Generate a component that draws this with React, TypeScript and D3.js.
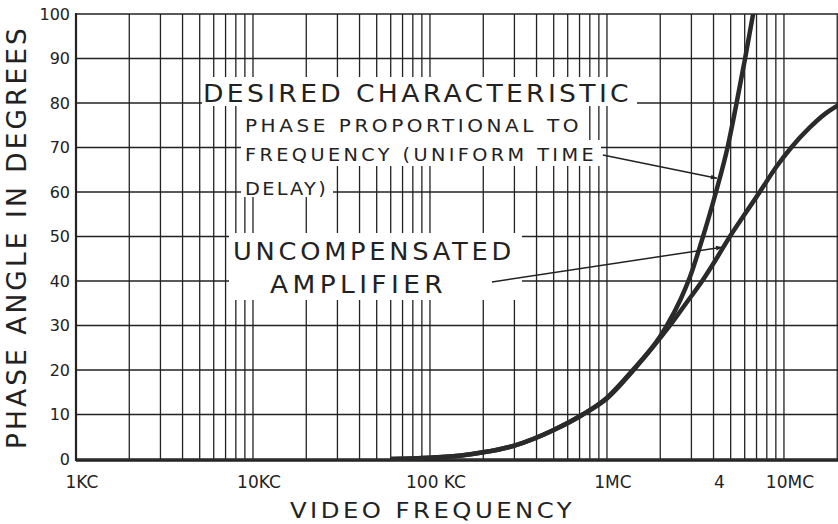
import { useEffect, useRef } from 'react'
import * as d3 from 'd3'

const W = 838
const H = 524

const FREQ_DOMAIN = [1e3, 2.02e7]
const PHASE_TICKS = [0, 10, 20, 30, 40, 50, 60, 70, 80, 90, 100]

const X_LABEL_FREQS = [1e3, 1e4, 1e5, 1e6, 4e6, 1e7]
const X_LABEL_TEXT = ['1KC', '10KC', '100 KC', '1MC', '4', '10MC']

// desired characteristic: phase proportional to frequency
const DESIRED_FREQ = [60e3, 100e3, 150e3, 200e3, 300e3, 500e3, 730e3, 1e6, 1.4e6, 2.0e6, 2.18e6, 2.6e6, 2.95e6, 3.49e6, 4.13e6, 4.8e6, 5.4e6, 6.03e6, 6.8e6]
const DESIRED_PHASE = [0, 0.3, 0.8, 1.5, 3.0, 6.5, 10, 13.8, 20, 27.6, 30, 35.8, 41, 50, 60, 70, 80, 90, 101.5]

// uncompensated amplifier
const UNCOMP_FREQ = [60e3, 100e3, 150e3, 200e3, 300e3, 500e3, 730e3, 1e6, 1.4e6, 2.0e6, 2.27e6, 2.8e6, 3.45e6, 4.15e6, 4.95e6, 6e6, 7.3e6, 9e6, 11e6, 14e6, 17e6, 20.5e6]
const UNCOMP_PHASE = [0, 0.3, 0.8, 1.5, 3.0, 6.5, 10, 13.6, 19.8, 27.2, 30, 35, 40, 45, 50, 55, 60, 65.5, 70, 74.5, 77.5, 79.6]

const FONT = '"DejaVu Sans", "Liberation Sans", sans-serif'
const INK = '#222'

export default function App() {
  const svgRef = useRef<SVGSVGElement>(null)

  useEffect(() => {
    const svgEl = svgRef.current
    if (!svgEl) return
    const svg = d3.select(svgEl)
    svg.selectAll('*').remove()

    const left = 76, right = 838, top = 14, bottom = 459
    const x = d3.scaleLog().domain(FREQ_DOMAIN).range([left, right])
    const y = d3.scaleLinear().domain([0, 100]).range([bottom, top])

    svg.append('rect').attr('width', W).attr('height', H).attr('fill', '#fff')

    const defs = svg.append('defs')
    defs.append('clipPath').attr('id', 'plot')
      .append('rect').attr('x', left).attr('y', top).attr('width', right - left).attr('height', bottom - top + 2)
    defs.append('marker')
      .attr('id', 'head').attr('viewBox', '0 0 10 10')
      .attr('refX', 10).attr('refY', 5)
      .attr('markerWidth', 12).attr('markerHeight', 6)
      .attr('markerUnits', 'userSpaceOnUse')
      .attr('orient', 'auto')
      .append('path').attr('d', 'M0,1 L10,5 L0,9 Z').attr('fill', INK)

    // grid
    const grid = svg.append('g')
    x.ticks().filter(t => t > FREQ_DOMAIN[0]).forEach(t => {
      grid.append('line')
        .attr('x1', x(t)).attr('x2', x(t)).attr('y1', top).attr('y2', bottom)
        .attr('stroke', INK).attr('stroke-width', 1.3)
    })
    PHASE_TICKS.forEach(t => {
      grid.append('line')
        .attr('x1', left).attr('x2', right).attr('y1', y(t)).attr('y2', y(t))
        .attr('stroke', INK).attr('stroke-width', t === 100 ? 1.6 : 1.4)
    })

    // white patches behind the lettering
    const patches: [number, number, number, number][] = [
      [202, 77, 637, 106],
      [241, 106, 586, 140],
      [241, 140, 601, 166],
      [241, 166, 333, 197],
      [229, 233, 522, 300],
    ]
    patches.forEach(([x0, y0, x1, y1]) => {
      svg.append('rect').attr('x', x0).attr('y', y0).attr('width', x1 - x0).attr('height', y1 - y0).attr('fill', '#fff')
    })

    // frame
    svg.append('line').attr('x1', left).attr('x2', left).attr('y1', top - 1).attr('y2', bottom + 2)
      .attr('stroke', INK).attr('stroke-width', 2.2)
    svg.append('line').attr('x1', left).attr('x2', right).attr('y1', bottom + 1.5).attr('y2', bottom + 1.5)
      .attr('stroke', INK).attr('stroke-width', 2.6)

    // curves
    const line = d3.line<[number, number]>()
      .x(d => x(d[0])).y(d => y(d[1]))
      .curve(d3.curveMonotoneX)
    const curves = svg.append('g').attr('clip-path', 'url(#plot)')
    curves.append('path')
      .datum(DESIRED_FREQ.map((f, i) => [f, DESIRED_PHASE[i]] as [number, number]))
      .attr('d', line).attr('fill', 'none').attr('stroke', '#2a2a2a').attr('stroke-width', 4.5)
    curves.append('path')
      .datum(UNCOMP_FREQ.map((f, i) => [f, UNCOMP_PHASE[i]] as [number, number]))
      .attr('d', line).attr('fill', 'none').attr('stroke', '#2a2a2a').attr('stroke-width', 4.5)

    // arrows
    const arrows: [[number, number], [number, number]][] = [
      [[948e3, 68.3], [4.18e6, 63.1]],
      [[224e3, 39.8], [4.47e6, 47.6]],
    ]
    arrows.forEach(([a, b]) => {
      svg.append('line')
        .attr('x1', x(a[0])).attr('y1', y(a[1])).attr('x2', x(b[0])).attr('y2', y(b[1]))
        .attr('stroke', INK).attr('stroke-width', 1.5)
        .attr('marker-end', 'url(#head)')
    })

    // lettering: a little tracking, then stretched to the lettered width
    const label = (txt: string, tx: number, ty: number, size: number, len: number, ls: number) => {
      svg.append('text')
        .attr('x', tx).attr('y', ty)
        .attr('textLength', len).attr('lengthAdjust', 'spacingAndGlyphs')
        .attr('fill', INK)
        .style('font-family', FONT)
        .style('font-size', `${size}px`)
        .style('letter-spacing', `${ls}px`)
        .text(txt)
    }
    label('DESIRED CHARACTERISTIC', 203, 102, 24, 429, 3)
    label('PHASE PROPORTIONAL TO', 245, 132, 17, 337, 3)
    label('FREQUENCY (UNIFORM TIME', 245, 161, 17, 352, 3)
    label('DELAY)', 245, 195, 17, 83, 2)
    label('UNCOMPENSATED', 233, 260, 24, 282, 3.5)
    label('AMPLIFIER', 270, 293, 24, 177, 4)

    // y tick labels
    PHASE_TICKS.forEach(t => {
      svg.append('text')
        .attr('x', 70).attr('y', y(t))
        .attr('text-anchor', 'end').attr('dominant-baseline', 'central')
        .attr('fill', INK)
        .style('font-family', FONT).style('font-size', '16px')
        .text(t)
    })

    // x tick labels
    X_LABEL_FREQS.forEach((f, i) => {
      svg.append('text')
        .attr('x', x(f) + 6).attr('y', 488)
        .attr('text-anchor', 'middle')
        .attr('fill', INK)
        .style('font-family', FONT).style('font-size', '17px')
        .text(X_LABEL_TEXT[i])
    })

    // axis titles
    svg.append('text')
      .attr('x', 290).attr('y', 518)
      .attr('textLength', 285).attr('lengthAdjust', 'spacingAndGlyphs')
      .attr('fill', INK)
      .style('font-family', FONT).style('font-size', '21px')
      .style('letter-spacing', '3px')
      .text('VIDEO FREQUENCY')

    svg.append('text')
      .attr('transform', `translate(26,${449}) rotate(-90)`)
      .attr('textLength', 424).attr('lengthAdjust', 'spacingAndGlyphs')
      .attr('fill', INK)
      .style('font-family', FONT).style('font-size', '26px')
      .style('letter-spacing', '3px')
      .text('PHASE ANGLE IN DEGREES')
  }, [])

  return (
    <svg
      ref={svgRef}
      width={W}
      height={H}
      style={{ position: 'absolute', left: 0, top: 0, display: 'block' }}
    />
  )
}
